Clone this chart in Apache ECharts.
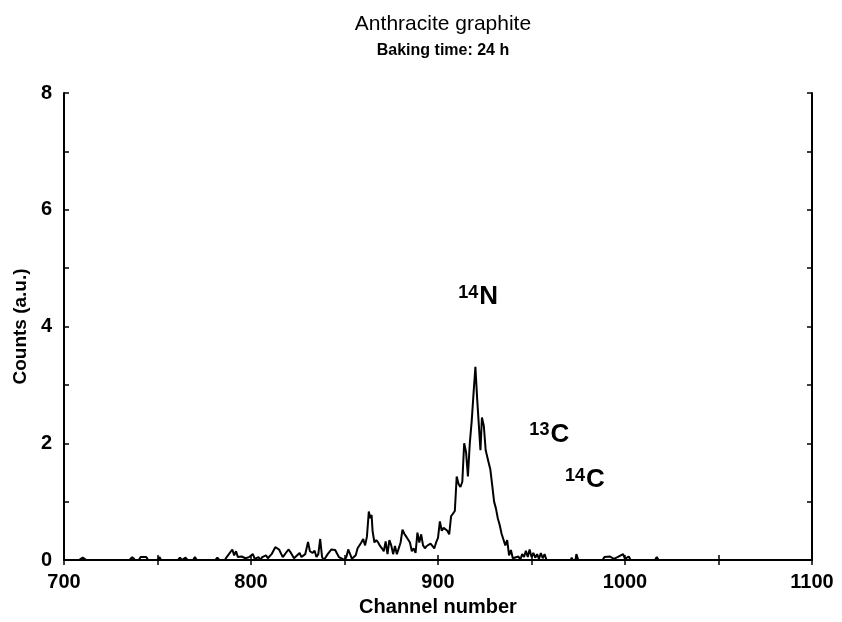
<!DOCTYPE html>
<html>
<head>
<meta charset="utf-8">
<script src="https://cdn.jsdelivr.net/npm/echarts@6/dist/echarts.min.js"></script>
<style>
  html, body { margin: 0; padding: 0; background: #fff; }
  #chart-container { width: 842px; height: 622px; }
</style>
</head>
<body>
<div id="chart-container"></div>
<script>
// spectrum: channel and counts (a.u.)
var channels = [
  700, 708, 710, 712, 735, 736.5, 738, 740, 741, 744, 745, 750, 751, 752,
  761, 762, 763, 764, 765, 766, 769, 770, 771, 781, 782, 783, 786, 787, 788,
  790, 791, 792, 793, 795, 797, 799, 800, 801, 802, 804, 805, 806, 807, 808,
  809, 811, 813, 815, 817, 818, 820, 821, 823, 824, 826, 827, 829, 830.5,
  831.5, 833, 834, 835, 836, 837, 838, 839, 841, 843, 845, 847, 848, 850,
  851, 852, 853, 854, 856, 857, 858, 859, 860, 861, 862, 863, 863.7, 864.5,
  865, 866, 867, 868, 869, 870, 871, 872, 873, 874, 875, 876, 877, 878, 879,
  880, 881, 882, 883, 884, 885, 886, 887, 888, 889, 890, 891, 892, 893, 894,
  895, 896, 897, 898, 899, 900, 901, 902, 903, 904, 905, 906, 907, 908, 909,
  910, 911, 912, 913, 914, 915, 916, 917, 918, 919, 920, 921, 922, 922.7,
  923.5, 924.5, 925.5, 927, 928, 929, 930, 931, 932, 933, 934, 935, 936,
  937, 938, 939, 940, 941, 943, 944, 945, 946, 947, 948, 949, 950, 951, 952,
  953, 954, 955, 956, 957, 958, 971, 971.5, 972, 973.5, 974, 975, 988, 989,
  990, 992, 994, 996, 997, 999, 1000, 1002, 1003, 1016, 1017, 1018, 1020
];
var counts = [
  0, 0, 0.04, 0, 0, 0.05, 0, 0, 0.05, 0.05, 0, 0, 0.05, 0,
  0, 0.04, 0, 0, 0.04, 0, 0, 0.05, 0, 0, 0.04, 0, 0, 0.05, 0.02,
  0.18, 0.08, 0.15, 0.05, 0.06, 0.03, 0.05, 0.02, 0.1, 0.02, 0.05, 0, 0.05, 0.02, 0.08,
  0.03, 0.1, 0.22, 0.18, 0.05, 0.02, 0.18, 0.14, 0.03, 0, 0.12, 0.05, 0.1, 0.31,
  0.15, 0.12, 0.16, 0.05, 0.1, 0.36, 0.05, 0, 0.1, 0.18, 0.17, 0.05, 0.03, 0,
  0.05, 0.18, 0.1, 0.02, 0.08, 0.2, 0.18, 0.3, 0.36, 0.25, 0.4, 0.83, 0.72, 0.77,
  0.5, 0.3, 0.34, 0.3, 0.24, 0.2, 0.15, 0.32, 0.1, 0.34, 0.25, 0.1, 0.24, 0.1, 0.2,
  0.3, 0.52, 0.45, 0.4, 0.35, 0.3, 0.15, 0.2, 0.12, 0.47, 0.3, 0.44, 0.25, 0.2, 0.24,
  0.22, 0.28, 0.24, 0.2, 0.3, 0.38, 0.66, 0.5, 0.55, 0.58, 0.5, 0.44, 0.75, 0.72, 0.84,
  1.43, 1.3, 1.25, 1.34, 2.0, 1.85, 1.43, 2.0, 2.37, 2.85, 3.31, 2.73, 2.76, 1.88,
  2.44, 2.3, 1.88, 1.68, 1.55, 1.28, 1.0, 0.88, 0.71, 0.6, 0.45, 0.48, 0.25,
  0.34, 0.08, 0.17, 0.03, 0.02, 0.06, 0, 0.1, 0.05, 0.16, 0.05, 0.18, 0.05, 0.12, 0.04,
  0.1, 0.02, 0.12, 0.03, 0.1, 0, 0, 0.04, 0, 0, 0.1, 0, 0, 0.05,
  0.04, 0.06, 0.02, 0.05, 0.02, 0.1, 0.02, 0.06, 0, 0, 0.05, 0, 0
];

// peak labels: [superscript, element, channel, counts]
var peakLabels = [
  ['14', 'N', 921.5, 4.5],
  ['13', 'C', 959.5, 2.15],
  ['14', 'C', 978.5, 1.37]
];

var xTicks = [700, 800, 900, 1000, 1100];
var yTicks = [0, 2, 4, 6, 8];

var dom = document.getElementById("chart-container");
var myChart = echarts.init(dom, null, { renderer: "canvas" });

var font = "'Liberation Sans', Arial, sans-serif";
var lineStyle = { color: '#000', width: 2 };

var tickStyle = {
  show: true,
  inside: true,
  length: 5,
  lineStyle: { color: '#000', width: 1.5 }
};

// ticks every 50 channels / every 1 count, labels only on the listed ones
function xLabel(v) { return xTicks.indexOf(v) >= 0 ? String(v) : ''; }
function yLabel(v) { return yTicks.indexOf(v) >= 0 ? String(v) : ''; }

var option = {
  backgroundColor: '#fff',
  animation: false,
  title: [
    {
      text: 'Anthracite graphite',
      left: 438,
      top: 9,
      textAlign: 'center',
      textStyle: { fontFamily: font, fontSize: 21, fontWeight: 'normal', color: '#000' }
    },
    {
      text: 'Baking time: 24 h',
      left: 438,
      top: 38,
      textAlign: 'center',
      textStyle: { fontFamily: font, fontSize: 16, fontWeight: 'bold', color: '#000' }
    }
  ],
  grid: {
    left: 64,
    right: 30,
    top: 93,
    bottom: 60
  },
  xAxis: [
    {
      type: 'value',
      min: 700,
      max: 1100,
      interval: 50,
      name: 'Channel number',
      nameLocation: 'middle',
      nameGap: 37,
      nameTextStyle: { fontFamily: font, fontSize: 20, fontWeight: 'bold', color: '#000' },
      axisLine: { show: true, lineStyle: lineStyle },
      axisTick: tickStyle,
      splitLine: { show: false },
      axisLabel: {
        fontFamily: font, fontSize: 20, fontWeight: 'bold', color: '#000', margin: 12,
        formatter: xLabel
      }
    },
    {
      type: 'value',
      position: 'top',
      min: 700,
      max: 1100,
      interval: 50,
      axisLine: { show: true, lineStyle: lineStyle },
      axisTick: tickStyle,
      splitLine: { show: false },
      axisLabel: { show: false }
    }
  ],
  yAxis: [
    {
      type: 'value',
      min: 0,
      max: 8,
      interval: 1,
      name: 'Counts (a.u.)',
      nameLocation: 'middle',
      nameGap: 34,
      nameTextStyle: { fontFamily: font, fontSize: 19, fontWeight: 'bold', color: '#000' },
      axisLine: { show: true, lineStyle: lineStyle },
      axisTick: tickStyle,
      splitLine: { show: false },
      axisLabel: {
        fontFamily: font, fontSize: 20, fontWeight: 'bold', color: '#000', margin: 12,
        formatter: yLabel
      }
    },
    {
      type: 'value',
      position: 'right',
      min: 0,
      max: 8,
      interval: 1,
      axisLine: { show: true, lineStyle: lineStyle },
      axisTick: tickStyle,
      splitLine: { show: false },
      axisLabel: { show: false }
    }
  ],
  series: [
    {
      name: 'Counts',
      type: 'line',
      showSymbol: false,
      symbol: 'none',
      lineStyle: { color: '#000', width: 2 },
      data: channels.map(function (c, i) { return [c, counts[i]]; }),
      markPoint: {
        symbol: 'circle',
        symbolSize: 0,
        label: {
          show: true,
          position: 'inside',
          formatter: function (p) { return '{sup|' + p.data.sup + '}{el|' + p.data.el + '}'; },
          rich: {
            sup: { fontFamily: font, fontSize: 18, fontWeight: 'bold', color: '#000', verticalAlign: 'top', padding: [0, 1, 6, 0] },
            el: { fontFamily: font, fontSize: 26, fontWeight: 'bold', color: '#000' }
          }
        },
        data: peakLabels.map(function (p) {
          return { coord: [p[2], p[3]], sup: p[0], el: p[1] };
        })
      }
    }
  ]
};

myChart.setOption(option);
window.addEventListener("resize", myChart.resize);
</script>
</body>
</html>
